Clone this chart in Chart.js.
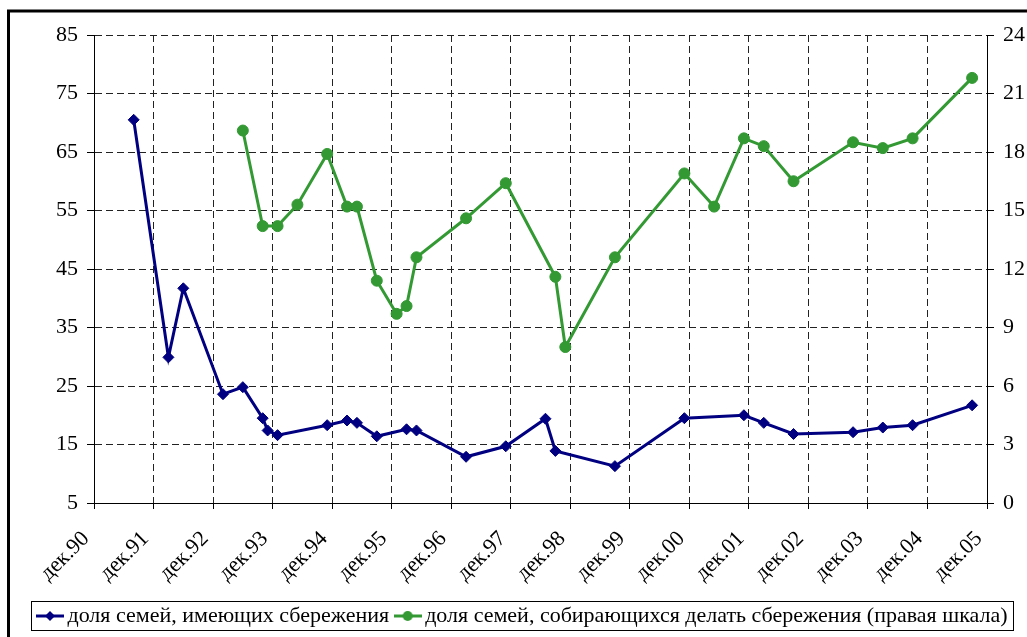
<!DOCTYPE html>
<html lang="ru">
<head>
<meta charset="utf-8">
<title>Доля семей со сбережениями</title>
<script src="https://cdn.jsdelivr.net/npm/chart.js@4.4.1/dist/chart.umd.min.js"></script>
<style>
  html, body { margin: 0; padding: 0; background: #fff; }
  #wrap { position: relative; width: 1027px; height: 637px; }
</style>
</head>
<body>
<div id="wrap"><canvas id="savingsChart"></canvas></div>
<script>
// x axis runs in months from December 1990, one label per December
const tickLabels = ['дек.90', 'дек.91', 'дек.92', 'дек.93', 'дек.94', 'дек.95', 'дек.96', 'дек.97',
                    'дек.98', 'дек.99', 'дек.00', 'дек.01', 'дек.02', 'дек.03', 'дек.04', 'дек.05'];

// share of families that have savings, % (left scale)
const haveDates = ['1991-08', '1992-03', '1992-06', '1993-02', '1993-06', '1993-10', '1993-11', '1994-01',
                   '1994-11', '1995-03', '1995-05', '1995-09', '1996-03', '1996-05', '1997-03', '1997-11',
                   '1998-07', '1998-09', '1999-09', '2000-11', '2001-11', '2002-03', '2002-09', '2003-09',
                   '2004-03', '2004-09', '2005-09'];
const haveShare = [70.5, 29.9, 41.7, 23.6, 24.8, 19.5, 17.4, 16.6,
                   18.3, 19.1, 18.7, 16.4, 17.6, 17.4, 12.9, 14.7,
                   19.4, 13.9, 11.3, 19.5, 20.0, 18.7, 16.8, 17.1,
                   17.9, 18.3, 21.7];

// share of families planning to save, % (right scale)
const planDates = ['1993-06', '1993-10', '1994-01', '1994-05', '1994-11', '1995-03', '1995-05', '1995-09',
                   '1996-01', '1996-03', '1996-05', '1997-03', '1997-11', '1998-09', '1998-11', '1999-09',
                   '2000-11', '2001-05', '2001-11', '2002-03', '2002-09', '2003-09', '2004-03', '2004-09',
                   '2005-09'];
const planShare = [19.1, 14.2, 14.2, 15.3, 17.9, 15.2, 15.2, 11.4,
                   9.7, 10.1, 12.6, 14.6, 16.4, 11.6, 8.0, 12.6,
                   16.9, 15.2, 18.7, 18.3, 16.5, 18.5, 18.2, 18.7,
                   21.8];

const NAVY = '#000080';
const GREEN = '#339933';
const FONT = { family: "'Liberation Serif', 'Times New Roman', serif", size: 22 };

const monthIndex = d => {
    const [y, m] = d.split('-').map(Number);
    return (y - 1990) * 12 + (m - 12);
};
const toPoints = (dates, vals) => dates.map((d, i) => ({ x: monthIndex(d), y: vals[i] }));

// legend swatch: short line with the series marker in the middle
function legendSample(color, shape) {
    const c = document.createElement('canvas');
    c.width = 28; c.height = 12;
    const g = c.getContext('2d');
    g.strokeStyle = color; g.lineWidth = 3;
    g.beginPath(); g.moveTo(0, 6); g.lineTo(28, 6); g.stroke();
    g.fillStyle = color;
    g.beginPath();
    if (shape === 'diamond') {
        g.moveTo(14, 1); g.lineTo(19, 6); g.lineTo(14, 11); g.lineTo(9, 6); g.closePath();
    } else {
        g.arc(14, 6, 5, 0, Math.PI * 2);
    }
    g.fill();
    return c;
}
const samples = [legendSample(NAVY, 'diamond'), legendSample(GREEN, 'circle')];
const SWATCH_W = 13;

// outer frame and the box around the legend
const framePlugin = {
    id: 'frame',
    beforeDraw(chart) {
        const ctx = chart.ctx;
        ctx.save();
        ctx.fillStyle = '#fff';
        ctx.fillRect(0, 0, chart.width, chart.height);
        ctx.strokeStyle = '#000';
        ctx.lineWidth = 3;
        ctx.strokeRect(8.5, 11, chart.width + 20, chart.height + 20);
        ctx.restore();
    },
    afterDraw(chart) {
        const boxes = chart.legend.legendHitBoxes;
        if (!boxes || !boxes.length) return;
        const l = Math.round(Math.min(...boxes.map(b => b.left)) + SWATCH_W / 2 - 14 - 5);
        const r = Math.round(Math.max(...boxes.map(b => b.left + b.width)) + 5);
        const t = Math.round(boxes[0].top - 4);
        const h = Math.round(boxes[0].height + 7);
        const ctx = chart.ctx;
        ctx.save();
        ctx.strokeStyle = '#000';
        ctx.lineWidth = 1;
        ctx.strokeRect(l + 0.5, t + 0.5, r - l, h);
        ctx.restore();
    }
};

const gridDash = [7, 4];

new Chart(document.getElementById('savingsChart'), {
    type: 'line',
    data: {
        datasets: [
            {
                label: 'доля семей, имеющих сбережения',
                data: toPoints(haveDates, haveShare),
                yAxisID: 'y',
                borderColor: NAVY, backgroundColor: NAVY,
                borderWidth: 3,
                pointStyle: 'rectRot', pointRadius: 5.5, pointBorderWidth: 1,
                tension: 0
            },
            {
                label: 'доля семей, собирающихся делать сбережения (правая шкала)',
                data: toPoints(planDates, planShare),
                yAxisID: 'y1',
                borderColor: GREEN, backgroundColor: GREEN,
                borderWidth: 3,
                pointStyle: 'circle', pointRadius: 5.5, pointBorderWidth: 1,
                tension: 0
            }
        ]
    },
    options: {
        responsive: true, maintainAspectRatio: false,
        animation: false,
        layout: { padding: { top: 35, left: 24, right: 0, bottom: 0 } },
        scales: {
            x: {
                type: 'linear', min: 0, max: 180,
                ticks: {
                    stepSize: 12, autoSkip: false, minRotation: 45, maxRotation: 45,
                    callback: (v, i) => tickLabels[i],
                    font: FONT, color: '#000', padding: 17, labelOffset: -8
                },
                grid: { color: '#222', lineWidth: 1, tickLength: 6, tickColor: '#000' },
                border: { color: '#000', width: 1, dash: gridDash },
                afterFit: s => { s.height = 90; }
            },
            y: {
                position: 'left', min: 5, max: 85,
                ticks: { stepSize: 10, font: FONT, color: '#000', padding: 9 },
                grid: { color: '#222', lineWidth: 1, tickLength: 7, tickColor: '#000' },
                border: { color: '#000', width: 1, dash: gridDash },
                afterFit: s => { s.width = 70; }
            },
            y1: {
                position: 'right', min: 0, max: 24,
                ticks: { stepSize: 3, font: FONT, color: '#000', padding: 9 },
                grid: { drawOnChartArea: false, tickLength: 7, tickColor: '#000' },
                border: { color: '#000', width: 1 },
                afterFit: s => { s.width = 40; }
            }
        },
        plugins: {
            tooltip: { enabled: false },
            legend: {
                position: 'bottom',
                labels: {
                    font: FONT, color: '#000',
                    usePointStyle: true, pointStyleWidth: SWATCH_W, padding: 12,
                    generateLabels: chart => Chart.defaults.plugins.legend.labels.generateLabels(chart)
                        .map((item, i) => Object.assign(item, { pointStyle: samples[i] }))
                }
            }
        }
    },
    plugins: [framePlugin]
});
</script>
</body>
</html>
